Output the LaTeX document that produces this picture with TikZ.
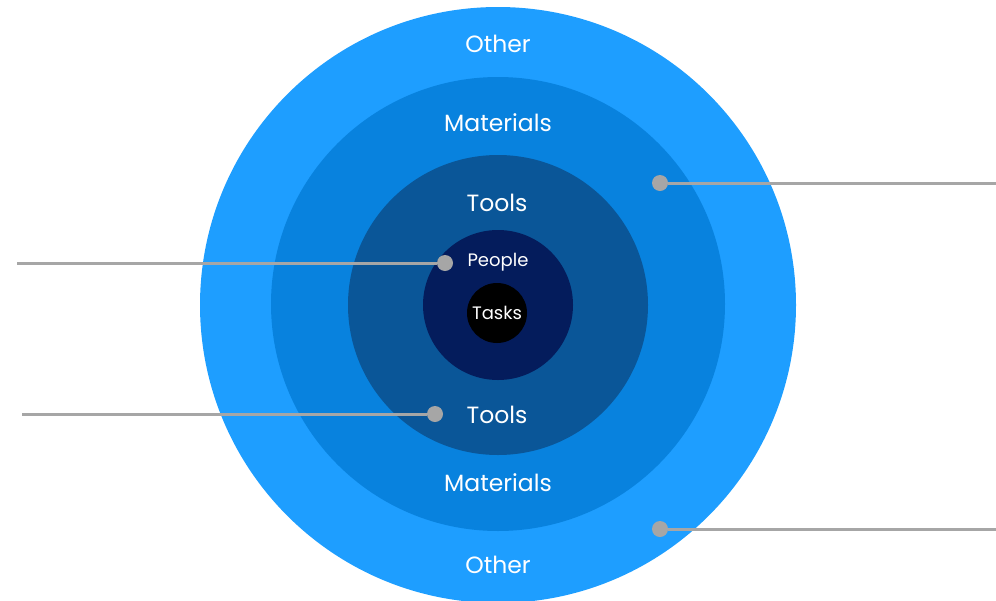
\documentclass[tikz,border=0pt]{standalone}
\usepackage{fontspec}
\setmainfont{Poppins}
\definecolor{otherblue}{RGB}{30,158,255}
\definecolor{matblue}{RGB}{8,130,222}
\definecolor{toolblue}{RGB}{10,86,152}
\definecolor{peoplenavy}{RGB}{4,28,92}
\definecolor{pin}{RGB}{166,166,166}
\begin{document}
\begin{tikzpicture}
        [x=1pt, y=-1pt,
        ring/.style={circle, inner sep=0pt, draw=none},
        lbl/.style={text=white, font=\fontsize{23.5}{26}\selectfont},
        small lbl/.style={text=white, font=\fontsize{18}{20}\selectfont},
        dot/.style={circle, inner sep=0pt, minimum size=16pt, fill=pin},
        pinline/.style={draw=pin, line width=3pt},
        ]
        \useasboundingbox (0,0) rectangle (996,600);
        % rings, outside in
        \node[ring, fill=otherblue, minimum size=596pt] (other) at (498,305) {};
        \node[ring, fill=matblue, minimum size=454pt] (materials) at (498,304) {};
        \node[ring, fill=toolblue, minimum size=300pt] (tools) at (498,305) {};
        \node[ring, fill=peoplenavy, minimum size=150pt] (people) at (498,305) {};
        \node[ring, fill=black, minimum size=60pt] (tasks) at (497,313) {};
        % labels
        \node[lbl] (other top) at (498,44) {Other};
        \node[lbl] (materials top) at (498,123) {Materials};
        \node[lbl] (tools top) at (497,203) {Tools};
        \node[small lbl] (people lbl) at (498,262) {People};
        \node[small lbl] (tasks lbl) at (497,313) {Tasks};
        \node[lbl] (tools bottom) at (497,415) {Tools};
        \node[lbl] (materials bottom) at (498,483) {Materials};
        \node[lbl] (other bottom) at (498,565) {Other};
        % pins
        \coordinate (end a) at (996,183);
        \coordinate (end b) at (17,263);
        \coordinate (end c) at (22,414);
        \coordinate (end d) at (996,529);
        \node[dot] (pin a) at (660,183) {};
        \node[dot] (pin b) at (445,263) {};
        \node[dot] (pin c) at (435,414) {};
        \node[dot] (pin d) at (660,529) {};
        \draw[pinline] (pin a) -- (end a);
        \draw[pinline] (pin b) -- (end b);
        \draw[pinline] (pin c) -- (end c);
        \draw[pinline] (pin d) -- (end d);
\end{tikzpicture}
\end{document}
